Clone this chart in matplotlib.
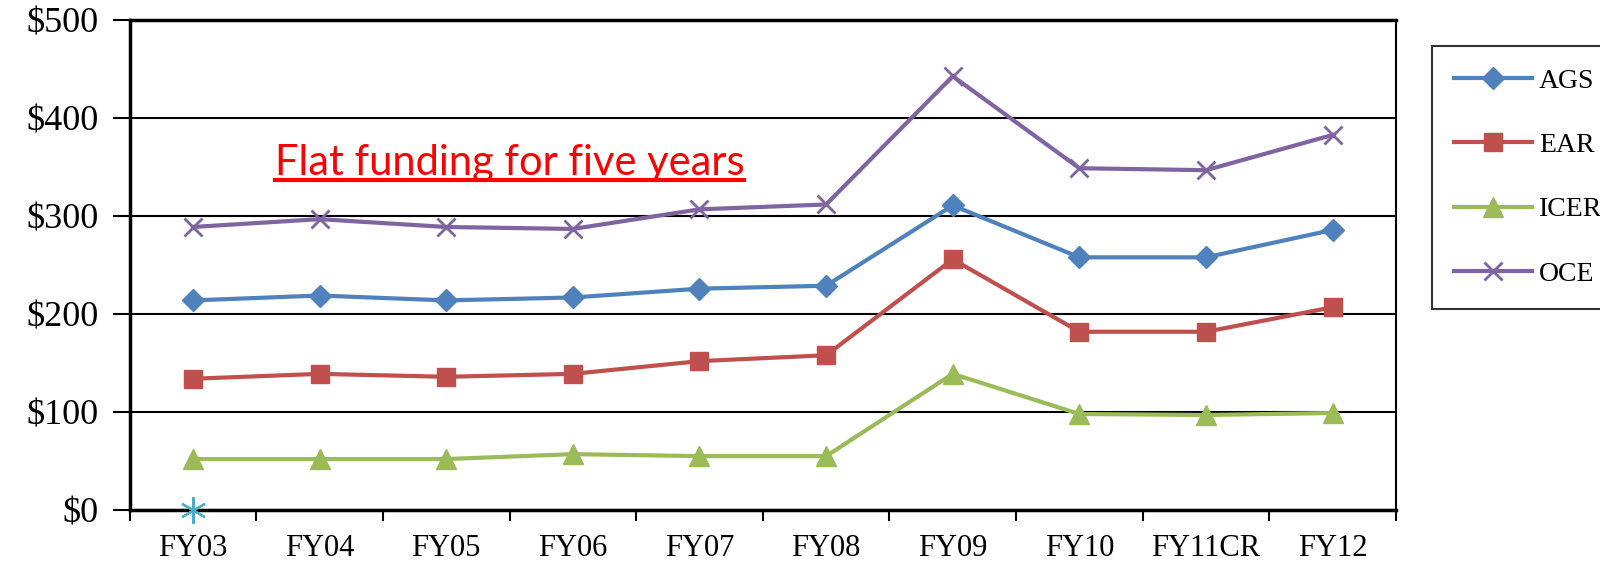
import matplotlib

matplotlib.use("Agg")
import matplotlib.pyplot as plt
import numpy as np
from matplotlib.lines import Line2D
from matplotlib.ticker import FuncFormatter

# ---- data (millions of dollars) ----
years = ["FY03", "FY04", "FY05", "FY06", "FY07", "FY08", "FY09", "FY10", "FY11CR", "FY12"]
ags = [214, 219, 214, 217, 226, 229, 311, 258, 258, 286]
ear = [134, 139, 136, 139, 152, 158, 256, 182, 182, 207]
icer = [52, 52, 52, 57, 55, 55, 139, 98, 97, 99]
oce = [289, 297, 289, 287, 307, 312, 443, 349, 347, 383]
extra = [0] + [np.nan] * 9   # lone point at FY03
y_ticks = [0, 100, 200, 300, 400, 500]
note = "Flat funding for five years"

SERIES = [
    ("AGS", ags, "#4F81BD", "D", 11),
    ("EAR", ear, "#C0504D", "s", 13),
    ("ICER", icer, "#9BBB59", "^", 14),
    ("OCE", oce, "#8064A2", "x", 13),
]

plt.rcParams["font.family"] = ["Liberation Serif", "DejaVu Serif"]

fig = plt.figure(figsize=(16, 5.66), dpi=100)
ax = fig.add_axes([0.081, 0.099, 0.7915, 0.865])

x = np.arange(len(years))
for label, vals, color, marker, ms in SERIES:
    ax.plot(x, vals, color=color, marker=marker, markersize=ms, linewidth=3,
            markeredgewidth=2 if marker == "x" else 1, label=label, zorder=3)
ax.plot(x, extra, color="#4BACC6", marker=(6, 2, 0), markersize=19,
        markeredgewidth=1.5, linestyle="none", zorder=3, clip_on=False)

ax.set_xlim(-0.5, len(years) - 0.5)
ax.set_ylim(0, 500)
ax.set_yticks(y_ticks)
ax.yaxis.set_major_formatter(FuncFormatter(lambda v, _: f"${v:.0f}"))
ax.grid(axis="y", color="black", linewidth=1.5)
ax.set_axisbelow(True)

ax.set_xticks(x)
ax.set_xticklabels(years)
ax.set_xticks(np.arange(-0.5, len(years)), minor=True)
ax.tick_params(axis="x", which="major", length=0, pad=17, labelsize=22)
ax.tick_params(axis="x", which="minor", direction="out", length=8, width=1.5)
ax.tick_params(axis="y", length=12, width=1.5, direction="out", pad=10,
               labelsize=26)
for sp in ax.spines.values():
    sp.set_color("black")
    sp.set_linewidth(1.5)
ax.spines["top"].set_linewidth(2.5)
ax.spines["bottom"].set_linewidth(2.5)
ax.spines["left"].set_linewidth(2.5)

txt = ax.text(2.5, 354, note, color="red", fontsize=30, family=["Lato", "DejaVu Sans"],
              ha="center", va="center")

leg = fig.legend(loc="upper left", bbox_to_anchor=(1432 / 1600, 1 - 46 / 566),
                 fontsize=20, handlelength=2.8, labelspacing=1.4,
                 borderpad=0.8, fancybox=False, frameon=True, handletextpad=0.25,
                 borderaxespad=0)
leg.get_frame().set_edgecolor("black")
leg.get_frame().set_linewidth(1.5)

# underline the note using its rendered extent
fig.canvas.draw()
bb = txt.get_window_extent().transformed(fig.transFigure.inverted())
fig.add_artist(Line2D([bb.x0, bb.x1], [bb.y0 + 0.004, bb.y0 + 0.004],
                      transform=fig.transFigure, color="red", linewidth=3))

fig.savefig("out.png", dpi=100)
